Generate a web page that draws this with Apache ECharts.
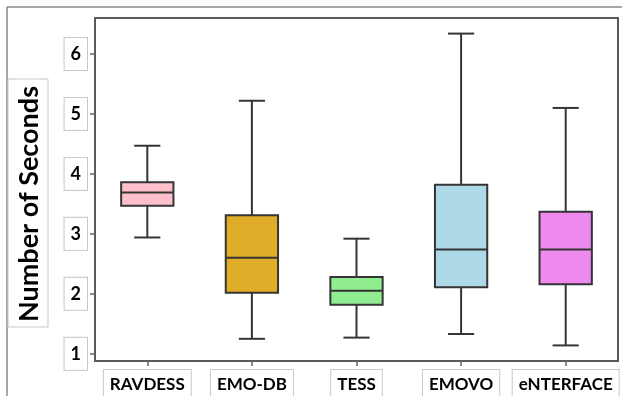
<!DOCTYPE html>
<html>
<head>
<meta charset="utf-8">
<script src="https://cdn.jsdelivr.net/npm/echarts@6/dist/echarts.min.js"></script>
<style>html,body{margin:0;padding:0;background:#fff;}#c{width:622px;height:396px;}</style>
</head>
<body>
<div id="c"></div>
<script>
var categories = ['RAVDESS', 'EMO-DB', 'TESS', 'EMOVO', 'eNTERFACE'];
var whiskerLow = [2.94, 1.25, 1.27, 1.33, 1.14];
var q1 = [3.47, 2.02, 1.82, 2.11, 2.16];
var median = [3.69, 2.60, 2.05, 2.74, 2.74];
var q3 = [3.86, 3.31, 2.28, 3.82, 3.37];
var whiskerHigh = [4.47, 5.22, 2.92, 6.34, 5.10];
var yTicks = [1, 2, 3, 4, 5, 6];
var yTitle = 'Number of Seconds';

var fills = ['#FFC0CB', '#DFAD27', '#90EE90', '#ADD8E6', '#EE8AEE'];
var FONT = 'Lato, "Open Sans", sans-serif';
var STROKE = '#353535';

var data = categories.map(function (c, i) {
  return [i, whiskerLow[i], q1[i], median[i], q3[i], whiskerHigh[i]];
});

var chart = echarts.init(document.getElementById('c'));
chart.setOption({
  animation: false,
  grid: { left: 95, right: 4, top: 18, bottom: 35, containLabel: false, outerBoundsMode: 'none',
    show: true, borderColor: '#5a5a5a', borderWidth: 2, backgroundColor: 'transparent' },
  xAxis: {
    type: 'category', data: categories, boundaryGap: true,
    axisLine: { show: false },
    axisTick: { show: true, alignWithLabel: true, length: 5, lineStyle: { color: '#666', width: 1.5 } },
    axisLabel: {
      interval: 0, hideOverlap: false,
      margin: 9, color: '#000', fontFamily: FONT, fontWeight: 'bold', fontSize: 17,
      borderColor: '#c8c8c8', borderWidth: 1, padding: [6, 6, 14, 6], backgroundColor: '#fff'
    },
    splitLine: { show: false }
  },
  yAxis: {
    type: 'value', min: 0.88, max: 6.6,
    axisLine: { show: false },
    axisTick: { show: true, length: 5, customValues: yTicks, lineStyle: { color: '#666', width: 1.5 } },
    axisLabel: {
      customValues: yTicks, margin: 8, color: '#000', fontFamily: FONT, fontWeight: 'bold', fontSize: 18,
      borderColor: '#c8c8c8', borderWidth: 1, padding: [7, 6, 7, 6], backgroundColor: '#fff'
    },
    splitLine: { show: false }
  },
  graphic: [
    { type: 'line', shape: { x1: 7, y1: 7, x2: 622, y2: 7 }, style: { stroke: '#8a8a8a', lineWidth: 1.5 }, z: 100 },
    { type: 'line', shape: { x1: 7, y1: 7, x2: 7, y2: 396 }, style: { stroke: '#8a8a8a', lineWidth: 1.5 }, z: 100 },
    { type: 'rect', shape: { x: 8, y: 79, width: 40, height: 248 }, style: { fill: '#fff', stroke: '#c8c8c8', lineWidth: 1 }, z: 100 },
    {
      type: 'text', x: 29, y: 204, rotation: Math.PI / 2, z: 101,
      style: { text: yTitle, font: 'bold 27px ' + FONT, fill: '#000', align: 'center', verticalAlign: 'middle' }
    }
  ],
  series: [{
    type: 'custom',
    data: data,
    encode: { x: 0, y: [1, 2, 3, 4, 5] },
    renderItem: function (params, api) {
      var i = api.value(0);
      var band = api.size([1, 0])[0];
      var bw = band * 0.5, cw = band * 0.25;
      var pLow = api.coord([i, api.value(1)]);
      var pQ1 = api.coord([i, api.value(2)]);
      var pMed = api.coord([i, api.value(3)]);
      var pQ3 = api.coord([i, api.value(4)]);
      var pHigh = api.coord([i, api.value(5)]);
      var x = pQ1[0];
      var ls = { stroke: STROKE, lineWidth: 2, fill: null };
      return {
        type: 'group',
        children: [
          { type: 'line', shape: { x1: x, y1: pLow[1], x2: x, y2: pQ1[1] }, style: ls },
          { type: 'line', shape: { x1: x, y1: pQ3[1], x2: x, y2: pHigh[1] }, style: ls },
          { type: 'line', shape: { x1: x - cw / 2, y1: pLow[1], x2: x + cw / 2, y2: pLow[1] }, style: ls },
          { type: 'line', shape: { x1: x - cw / 2, y1: pHigh[1], x2: x + cw / 2, y2: pHigh[1] }, style: ls },
          { type: 'rect', shape: { x: x - bw / 2, y: pQ3[1], width: bw, height: pQ1[1] - pQ3[1] },
            style: { fill: fills[i], stroke: STROKE, lineWidth: 2 } },
          { type: 'line', shape: { x1: x - bw / 2, y1: pMed[1], x2: x + bw / 2, y2: pMed[1] }, style: ls }
        ]
      };
    }
  }]
});
</script>
</body>
</html>
